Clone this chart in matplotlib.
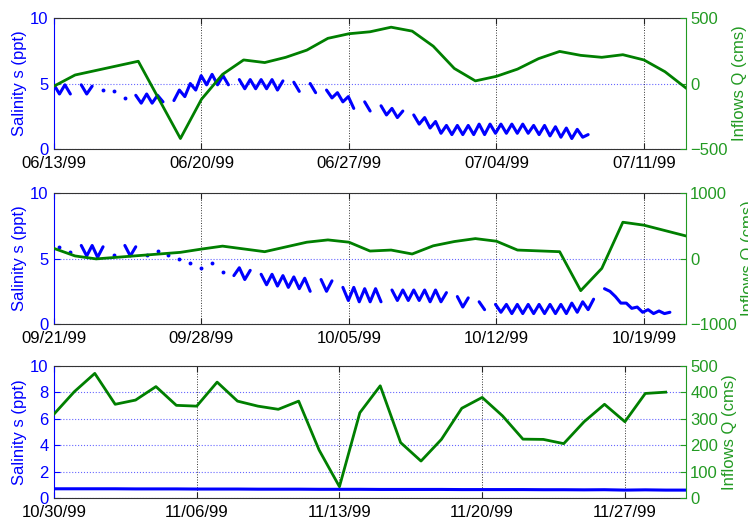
import numpy as np
import matplotlib
matplotlib.use('Agg')
import matplotlib.pyplot as plt
import matplotlib.dates as mdates

plt.rcParams['font.family'] = ['Liberation Sans', 'DejaVu Sans']
plt.rcParams['font.size'] = 12

nan = float('nan')
HALF_TIDE = 0.2587  # days between successive salinity highs and lows

BLUE = '#0000ff'
GREEN = '#007f00'
GREEN_AX = '#229a22'

# ---- 06/13/99 - 07/13/99
start1 = '1999-06-13'
ndays1 = 30
q_days1 = [0, 1, 4, 6, 7, 8, 9, 10, 11, 12, 13, 14, 15, 16, 17, 18, 19, 20, 21,
           22, 23, 24, 25, 26, 27, 28, 29, 30]
q1 = [-20, 65, 170, -420, -120, 70, 180, 160, 200, 255, 345, 380, 395, 430, 400,
      285, 115, 20, 55, 110, 190, 245, 215, 200, 220, 180, 90, -35]
sal1 = [4.9, 4.2, 4.9, 4.2, nan, 4.9, 4.2, 4.8, nan, 4.5,
        nan, 4.4, nan, 3.9, nan, 4.1, 3.5, 4.2, 3.5, 4.1,
        3.6, nan, 3.7, 4.5, 4.0, 5.0, 4.5, 5.6, 4.9, 5.7,
        4.9, 5.6, 4.9, nan, 5.3, 4.6, 5.3, 4.6, 5.3, 4.6,
        5.3, 4.5, 5.2, nan, 5.1, 4.4, nan, 5.0, 4.3, nan,
        4.5, 3.9, 4.3, 3.6, 4.0, 3.1, nan, 3.6, 2.9, nan,
        3.3, 2.6, 3.1, 2.4, 2.9, nan, 2.6, 1.9, 2.4, 1.6,
        2.1, 1.2, 1.8, 1.1, 1.8, 1.1, 1.8, 1.1, 1.9, 1.1,
        1.9, 1.2, 1.9, 1.2, 1.9, 1.2, 1.9, 1.2, 1.8, 1.1,
        1.8, 1.0, 1.7, 0.9, 1.6, 0.8, 1.5, 0.9, 1.1]

# ---- 09/21/99 - 10/21/99
start2 = '1999-09-21'
ndays2 = 30
q_days2 = [0, 1, 2, 6, 7, 8, 10, 12, 13, 14, 15, 16, 17, 18, 19, 20, 21, 22,
           24, 25, 26, 27, 28, 30]
q2 = [155, 40, -5, 95, 145, 190, 105, 250, 285, 250, 115, 130, 70, 195, 260,
      305, 265, 130, 105, -490, -150, 555, 510, 345]
sal2 = [nan, 5.9, nan, 5.5, nan, 6.0, 5.2, 6.0, 5.1, 5.9,
        nan, 5.3, nan, 6.0, 5.2, 5.9, nan, 5.3, nan, 5.6,
        nan, 5.3, nan, 5.0, nan, 4.7, nan, 4.3, nan, 4.7,
        nan, 4.0, nan, 3.7, 4.3, 3.4, 4.1, nan, 3.8, 3.0,
        3.8, 2.9, 3.7, 2.8, 3.6, 2.7, 3.5, 2.5, nan, 3.4,
        2.5, 3.3, nan, 2.8, 1.8, 2.8, 1.7, 2.7, 1.7, 2.7,
        1.7, nan, 2.6, 1.8, 2.6, 1.8, 2.6, 1.8, 2.6, 1.7,
        2.6, 1.7, 2.4, nan, 2.1, 1.3, 2.0, nan, 1.7, 1.1,
        nan, 1.5, 0.9, 1.5, 0.8, 1.5, 0.8, 1.5, 0.8, 1.5,
        0.8, 1.5, 0.8, 1.5, 0.8, 1.6, 0.9, 1.7, 1.1, 1.9,
        nan, 2.7, 2.5, 2.1, 1.6, 1.6, 1.2, 1.3, 0.9, 1.1,
        0.8, 1.0, 0.8, 0.9]

# ---- 10/30/99 - 11/30/99
start3 = '1999-10-30'
ndays3 = 31
q_days3 = list(range(31))
q3 = [318, 403, 472, 355, 371, 422, 351, 348, 439, 367, 348, 336, 367, 182, 43,
      323, 425, 210, 140, 222, 340, 381, 311, 223, 222, 206, 289, 355, 289, 396,
      401]
sal_days3 = list(range(32))
sal3 = [0.70, 0.70, 0.70, 0.70, 0.69, 0.69, 0.69, 0.68, 0.68, 0.68, 0.67, 0.67,
        0.67, 0.66, 0.66, 0.66, 0.65, 0.65, 0.65, 0.65, 0.64, 0.64, 0.64, 0.64,
        0.63, 0.63, 0.62, 0.63, 0.60, 0.62, 0.60, 0.60]


fig = plt.figure(figsize=(7.48, 5.21), dpi=100)


def isolated(values):
    # readings with no neighbour on either side would not show as a line
    v = np.asarray(values, dtype=float)
    ok = ~np.isnan(v)
    prev_ok = np.r_[False, ok[:-1]]
    next_ok = np.r_[ok[1:], False]
    return np.where(ok & ~prev_ok & ~next_ok, v, np.nan)


def draw_panel(rect, start, ndays, sal_days, sal, sal_ticks, q_days, q, q_ticks):
    base = mdates.date2num(np.datetime64(start))
    t = base + np.asarray(sal_days)
    ax = fig.add_axes(rect)
    ax.plot(t, sal, color=BLUE, lw=2.2, solid_capstyle='round',
            solid_joinstyle='round')
    ax.plot(t, isolated(sal), ls='none', marker='o', ms=2.8, mew=0, color=BLUE)
    ax.set_xlim(base, base + ndays)
    ax.set_ylim(sal_ticks[0], sal_ticks[-1])
    ax.set_yticks(sal_ticks)
    ax.set_xticks(base + np.arange(0, ndays, 7))
    ax.xaxis.set_major_formatter(mdates.DateFormatter('%m/%d/%y'))
    ax.xaxis.grid(True, color='k', ls=':', lw=0.7, alpha=0.8)
    ax.yaxis.grid(True, color=BLUE, ls=':', lw=0.8, alpha=0.6)
    ax.tick_params(axis='x', direction='in', length=4, top=True, pad=5,
                   colors='#222222', labelcolor='k')
    ax.tick_params(axis='y', direction='in', length=4, colors=BLUE, pad=4)
    ax.set_ylabel('Salinity s (ppt)', color=BLUE, labelpad=2)
    ax.spines['left'].set_color(BLUE)
    ax.spines['right'].set_visible(False)
    for s in ('top', 'bottom'):
        ax.spines[s].set_color('#333333')

    ax2 = ax.twinx()
    ax2.plot(base + np.asarray(q_days), q, color=GREEN, lw=2.0,
             solid_joinstyle='round')
    ax2.set_ylim(q_ticks[0], q_ticks[-1])
    ax2.set_yticks(q_ticks)
    ax2.tick_params(axis='y', direction='in', length=4, colors=GREEN_AX, pad=3)
    ax2.set_ylabel('Inflows Q (cms)', color=GREEN_AX, labelpad=3)
    ax2.spines['right'].set_color(GREEN_AX)
    for s in ('left', 'top', 'bottom'):
        ax2.spines[s].set_visible(False)
    return ax, ax2


sal_t1 = np.arange(len(sal1)) * HALF_TIDE
sal_t2 = np.arange(len(sal2)) * HALF_TIDE

draw_panel([0.0722, 0.714, 0.845, 0.2514], start1, ndays1, sal_t1, sal1,
           [0, 5, 10], q_days1, q1, [-500, 0, 500])
draw_panel([0.0722, 0.378, 0.845, 0.2514], start2, ndays2, sal_t2, sal2,
           [0, 5, 10], q_days2, q2, [-1000, 0, 1000])
draw_panel([0.0722, 0.0441, 0.845, 0.2534], start3, ndays3, sal_days3, sal3,
           [0, 2, 4, 6, 8, 10], q_days3, q3, [0, 100, 200, 300, 400, 500])

fig.savefig('out.png', dpi=100)
